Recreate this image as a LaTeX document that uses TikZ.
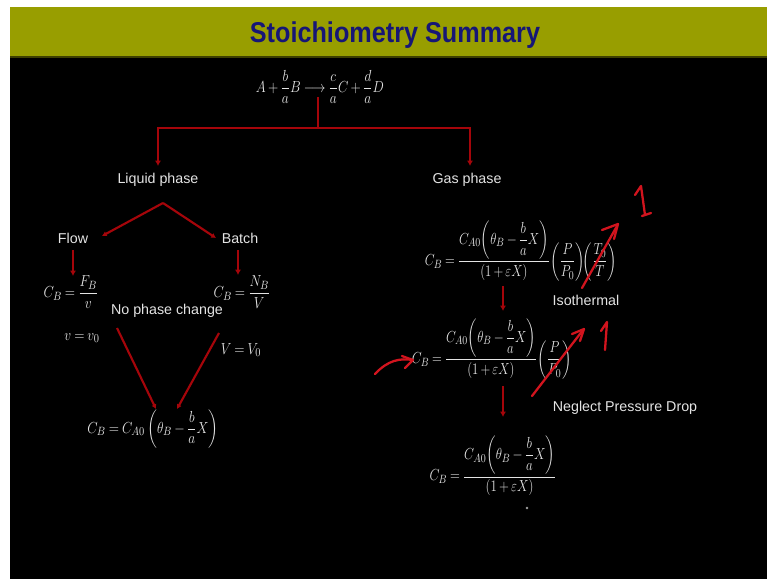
\documentclass[tikz,border=0pt]{standalone}
\usepackage[no-math]{fontspec}
\setmainfont{Liberation Sans}
\usepackage{amsmath}
\usetikzlibrary{arrows.meta}
\definecolor{barolive}{RGB}{152,158,0}
\definecolor{titlenavy}{RGB}{22,22,118}
\definecolor{treered}{RGB}{165,5,10}
\definecolor{handred}{RGB}{210,20,30}
\definecolor{txtgrey}{RGB}{228,228,228}
\newcommand{\sqz}[2][0.84]{\scalebox{#1}[1]{$\thickmuskip=4mu\medmuskip=3mu\displaystyle #2$}}
\newcommand{\gasnum}{C_{A0}\!\left(\theta_B-\dfrac{b}{a}X\right)}
\begin{document}
\begin{tikzpicture}[x=0.75pt,y=-0.75pt,
  lbl/.style={text=txtgrey,font=\fontsize{10.7}{12}\selectfont,inner sep=0pt},
  eqn/.style={text=txtgrey,font=\fontsize{12.5}{14}\selectfont,inner sep=0pt},
  rline/.style={draw=treered,line width=1.6pt},
  rarrow/.style={draw=treered,line width=1.8pt,-{Latex[length=4pt,width=4.5pt]}},
  hand/.style={draw=handred,line width=1.7pt,line cap=round,line join=round}]
\useasboundingbox (0,0) rectangle (767,579);
\fill[white] (0,0) rectangle (767,579);
\fill[black] (10,57) rectangle (767,579);
\fill[barolive] (10,7) rectangle (767,57);
\draw[black!60!barolive,line width=1pt] (10,57) -- (767,57);

% title
\node[text=titlenavy,inner sep=0pt] (title) at (395,35)
  {\scalebox{0.88}[1]{\fontsize{21.5}{24}\selectfont\bfseries Stoichiometry Summary}};

% reaction
\node[eqn] (react) at (320,87)
  {\sqz{A+\frac{b}{a}B\longrightarrow\frac{c}{a}C+\frac{d}{a}D}};

% liquid / gas
\node[lbl] (liquid) at (158,180) {Liquid phase};
\node[lbl] (gas) at (467,180) {Gas phase};

\coordinate (top) at (318,97);
\coordinate (split) at (318,128);
\coordinate (liqin) at (158,166);
\coordinate (gasin) at (470,166);
\draw[rline] (top) -- (split);
\draw[rarrow] (split) -| (liqin);
\draw[rarrow] (split) -| (gasin);

% liquid branch
\node[lbl] (flow) at (73,238) {Flow};
\node[lbl] (batch) at (240,238) {Batch};
\coordinate (lpeak) at (163,203);
\coordinate (flowin) at (102,236);
\coordinate (batchin) at (216,238);
\draw[rline,-{Latex[length=3.5pt,width=4pt]}] (lpeak) -- (flowin);
\draw[rline,-{Latex[length=3.5pt,width=4pt]}] (lpeak) -- (batchin);

\node[eqn] (cbflow) at (71,292) {\sqz{C_B=\frac{F_B}{v}}};
\node[eqn] (cbbatch) at (242,292) {\sqz{C_B=\frac{N_B}{V}}};
\coordinate (flowout) at (73,250);
\coordinate (flowend) at (73,276);
\coordinate (batchout) at (238,250);
\coordinate (batchend) at (238,275);
\draw[rarrow] (flowout) -- (flowend);
\draw[rarrow] (batchout) -- (batchend);

\node[lbl] (nopc) at (167,311) {No phase change};
\node[eqn] (vv) at (82,338) {\sqz{v=v_0}};
\node[eqn] (VV) at (241,350) {\sqz{V=V_0}};

\node[eqn] (cbliq) at (153,429)
  {\sqz{C_B=C_{A0}\left(\theta_B-\frac{b}{a}X\right)}};
\coordinate (lfrom) at (117,328);
\coordinate (lto) at (156,409);
\coordinate (rfrom) at (219,333);
\coordinate (rto) at (177,409);
\draw[rline,-{Latex[length=3.5pt,width=4pt]}] (lfrom) -- (lto);
\draw[rline,-{Latex[length=3.5pt,width=4pt]}] (rfrom) -- (rto);

% gas branch
\node[eqn] (gas1) at (521,251)
  {\sqz[0.8]{C_B=\frac{\gasnum}{(1+\varepsilon X)}\!\left(\frac{P}{P_0}\right)\!\!\left(\frac{T_0}{T}\right)}};
\node[eqn] (gas2) at (492,349)
  {\sqz[0.8]{C_B=\frac{\gasnum}{(1+\varepsilon X)}\!\left(\frac{P}{P_0}\right)}};
\node[eqn] (gas3) at (493,466)
  {\sqz[0.81]{C_B=\frac{\gasnum}{(1+\varepsilon X)}}};
\node[lbl] (iso) at (586,300) {Isothermal};
\node[lbl] (npd) at (625,408) {Neglect Pressure Drop};

\coordinate (g1out) at (503,286);
\coordinate (g2in) at (503,311);
\coordinate (g2out) at (503,386);
\coordinate (g3in) at (503,417);
\draw[rarrow] (g1out) -- (g2in);
\draw[rarrow] (g2out) -- (g3in);
\fill[txtgrey!70!black] (527,508) circle (1pt);

% handwritten annotations
\draw[hand] (582,288) -- (617,226);
\draw[hand] (602,230) -- (618,224) -- (614,239);
\draw[hand] (635,195) -- (641,186) -- (645,215);
\draw[hand] (642,216) -- (651,213);

\draw[hand] (532,396) -- (583,330);
\draw[hand] (572,334) -- (584,329) -- (580,341);
\draw[hand] (601,331) -- (607,322) -- (605,350);

\draw[hand] (375,374) .. controls (388,360) and (400,358) .. (413,360);
\draw[hand] (402,356) -- (413,360) -- (405,368);
\end{tikzpicture}
\end{document}
